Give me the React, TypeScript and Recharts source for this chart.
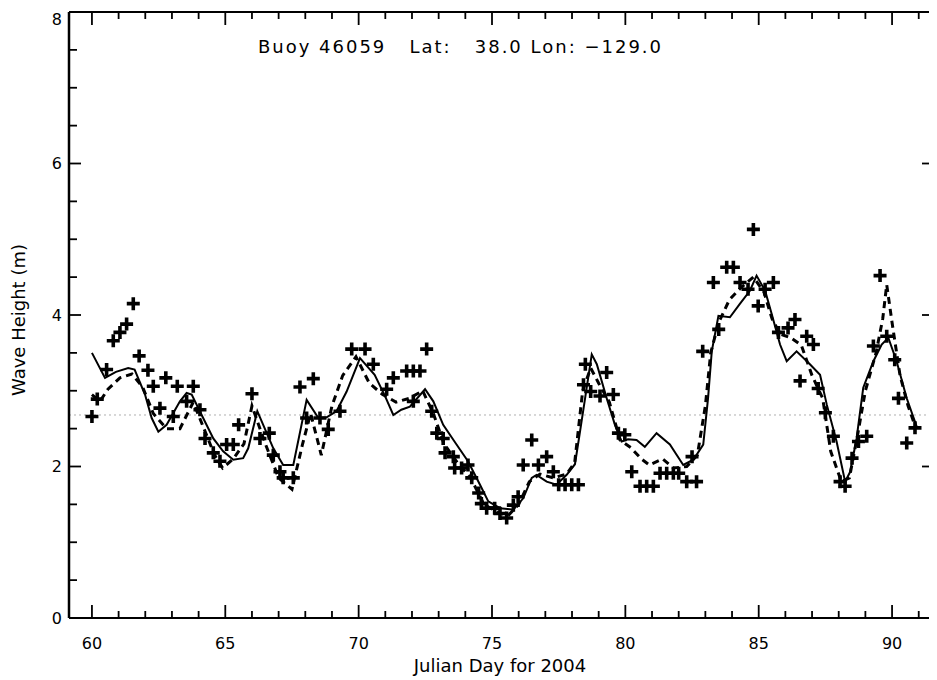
import React from 'react';
import {
  ComposedChart,
  Line,
  Scatter,
  XAxis,
  YAxis,
  ReferenceLine,
  Customized,
} from 'recharts';

// Observed buoy wave heights (+ markers)
const obsDays = [
  60.0, 60.2, 60.55, 60.8, 61.05, 61.3, 61.55, 61.77, 62.1, 62.3, 62.55, 62.77, 63.05, 63.2,
  63.55, 63.8, 64.05, 64.24, 64.55, 64.8, 65.05, 65.3, 65.5, 66.0, 66.3, 66.65, 66.8, 67.05,
  67.17, 67.55, 67.8, 68.05, 68.3, 68.55, 68.86, 69.3, 69.74, 70.24, 70.55, 71.05, 71.3,
  71.8, 72.05, 72.3, 72.05, 72.55, 72.74, 72.93, 73.17, 73.24, 73.55, 73.6, 73.86, 74.1,
  74.24, 74.5, 74.6, 74.8, 75.1, 75.3, 75.55, 75.8, 75.98, 76.17, 76.49, 76.74, 77.05, 77.3,
  77.5, 77.74, 77.99, 78.24, 78.43, 78.5, 78.7, 79.05, 79.3, 79.55, 79.74, 79.98, 80.24,
  80.55, 80.8, 81.05, 81.3, 81.55, 81.8, 82.0, 82.3, 82.5, 82.67, 82.9, 83.3, 83.5, 83.8,
  84.05, 84.3, 84.6, 84.8, 84.98, 85.24, 85.55, 85.74, 86.1, 86.36, 86.55, 86.8, 87.05,
  87.23, 87.5, 87.8, 88.05, 88.24, 88.5, 88.74, 89.05, 89.3, 89.55, 89.8, 90.1, 90.24,
  90.55, 90.86,
];
const obsHeights = [
  2.66, 2.89, 3.28, 3.66, 3.77, 3.88, 4.15, 3.46, 3.27, 3.06, 2.77, 3.17, 2.66, 3.06,
  2.86, 3.06, 2.75, 2.37, 2.18, 2.07, 2.29, 2.29, 2.55, 2.96, 2.37, 2.44, 2.15, 1.93,
  1.85, 1.85, 3.05, 2.64, 3.16, 2.64, 2.49, 2.73, 3.55, 3.55, 3.35, 3.02, 3.17,
  3.26, 3.26, 3.26, 2.86, 3.55, 2.73, 2.44, 2.37, 2.18, 2.13, 1.98, 1.98, 2.02,
  1.85, 1.65, 1.51, 1.45, 1.45, 1.38, 1.32, 1.49, 1.6, 2.02, 2.35, 2.02, 2.13, 1.93,
  1.76, 1.76, 1.76, 1.76, 3.08, 3.35, 2.99, 2.93, 3.24, 2.95, 2.44, 2.42, 1.93,
  1.74, 1.74, 1.74, 1.91, 1.91, 1.91, 1.91, 1.8, 2.13, 1.8, 3.52, 4.43, 3.81, 4.63,
  4.63, 4.43, 4.34, 5.13, 4.12, 4.34, 4.43, 3.77, 3.83, 3.94, 3.13, 3.72, 3.61,
  3.03, 2.71, 2.4, 1.8, 1.74, 2.11, 2.33, 2.4, 3.59, 4.52, 3.72, 3.41, 2.9,
  2.31, 2.51,
];

// Model 1 (solid line)
const solidDays = [
  60.0, 60.49, 60.9, 61.36, 61.6, 61.99, 62.24, 62.49, 62.8, 63.3, 63.55, 63.74, 64.17, 64.55,
  64.92, 65.3, 65.67, 65.86, 66.2, 66.8, 67.17, 67.55, 68.05, 68.49, 68.8, 69.17, 69.55,
  70.05, 70.6, 70.99, 71.3, 71.6, 71.92, 72.49, 72.8, 73.17, 73.67, 74.1, 74.55, 74.86,
  75.3, 75.8, 76.17, 76.49, 76.67, 77.05, 77.42, 77.8, 78.11, 78.3, 78.49, 78.74, 78.93,
  79.3, 79.61, 79.86, 80.1, 80.42, 80.73, 81.17, 81.67, 82.17, 82.55, 82.92, 83.1, 83.24,
  83.49, 83.92, 84.3, 84.67, 84.92, 85.24, 85.49, 85.8, 86.05, 86.42, 86.92, 87.3, 87.55,
  87.92, 88.24, 88.43, 88.67, 88.92, 89.3, 89.61, 89.86, 90.17, 90.55, 90.92,
];
const solidHeights = [
  3.5, 3.17, 3.25, 3.3, 3.28, 2.95, 2.64, 2.46, 2.55, 2.86, 2.97, 2.95, 2.64, 2.37,
  2.2, 2.09, 2.11, 2.24, 2.73, 2.24, 2.02, 2.02, 2.88, 2.64, 2.65, 2.73, 2.99,
  3.43, 3.21, 2.93, 2.68, 2.75, 2.79, 3.02, 2.86, 2.55, 2.29, 2.07, 1.76, 1.54,
  1.45, 1.43, 1.58, 1.85, 1.89, 1.8, 1.76, 1.89, 2.03, 2.46, 2.9, 3.48, 3.35,
  2.9, 2.55, 2.33, 2.36, 2.35, 2.26, 2.44, 2.29, 2.02, 2.09, 2.29, 2.9, 3.52,
  3.99, 3.97, 4.15, 4.32, 4.52, 4.32, 4.01, 3.61, 3.39, 3.52, 3.35, 3.21, 2.82,
  2.33, 1.8, 1.93, 2.37, 3.04, 3.39, 3.61, 3.7, 3.39, 2.9, 2.53,
];

// Model 2 (dashed line)
const dashedDays = [
  60.0, 60.3, 60.6, 61.05, 61.5, 61.9, 62.3, 62.8, 63.3, 63.8, 64.2, 64.6, 64.9, 65.3, 65.7,
  66.0, 66.5, 67.0, 67.5, 67.9, 68.2, 68.6, 69.0, 69.4, 69.9, 70.4, 70.9, 71.4, 71.9, 72.4,
  72.8, 73.2, 73.7, 74.2, 74.7, 75.2, 75.6, 76.0, 76.4, 76.8, 77.3, 77.8, 78.1, 78.4, 78.7,
  79.0, 79.4, 79.8, 80.2, 80.6, 80.9, 81.4, 81.8, 82.3, 82.7, 83.0, 83.2, 83.5, 83.9, 84.3,
  84.8, 85.2, 85.5, 85.8, 86.2, 86.6, 87.0, 87.4, 87.7, 88.1, 88.4, 88.7, 89.0, 89.4, 89.65,
  89.8, 90.0, 90.3, 90.6, 90.9,
];
const dashedHeights = [
  2.95, 2.86, 3.02, 3.17, 3.22, 3.05, 2.7, 2.5, 2.5, 2.85, 2.5, 2.15, 1.98, 2.1, 2.3,
  2.8, 2.3, 1.85, 1.7, 2.3, 2.7, 2.15, 2.8, 3.2, 3.45, 3.1, 2.95, 2.85, 2.9, 3.0,
  2.7, 2.3, 2.05, 1.85, 1.5, 1.4, 1.35, 1.5, 1.8, 1.9, 1.85, 1.9, 2.05, 3.0, 3.3,
  3.1, 2.85, 2.35, 2.25, 2.1, 2.02, 2.1, 1.98, 2.0, 2.15, 2.8, 3.5, 3.9, 4.2, 4.35,
  4.5, 4.3, 3.95, 3.75, 3.7, 3.6, 3.2, 2.9, 2.2, 1.8, 1.85, 2.4, 3.0, 3.5, 3.95,
  4.4, 3.9, 3.2, 2.8, 2.5,
];

const xTicks = Array.from({ length: 32 }, (_, i) => 60 + i);
const xLabelTicks = [60, 65, 70, 75, 80, 85, 90];
const yTicks = Array.from({ length: 17 }, (_, i) => i * 0.5);
const yLabelTicks = [0, 2, 4, 6, 8];
const titleText = 'Buoy 46059   Lat:   38.0 Lon: \u2212129.0';
const xTitle = 'Julian Day for 2004';
const yTitle = 'Wave Height (m)';

const obsData = obsDays.map((d, i) => ({ d, h: obsHeights[i] }));
const solidData = solidDays.map((d, i) => ({ d, h: solidHeights[i] }));
const dashedData = dashedDays.map((d, i) => ({ d, h: dashedHeights[i] }));

const FONT = '"DejaVu Sans", sans-serif';
const X_DOMAIN: [number, number] = [59.14, 91.61];

const BottomTick = (props: any) => {
  const { x, y, payload } = props;
  const v = payload.value;
  const major = xLabelTicks.includes(v);
  return (
    <g>
      <line x1={x} x2={x} y1={y} y2={y - (major ? 13 : 7)} stroke="#000" strokeWidth={1.8} />
      {major && (
        <text x={x} y={y + 31} textAnchor="middle" fontSize={16} fontFamily={FONT} fill="#000">
          {v}
        </text>
      )}
    </g>
  );
};

const TopTick = (props: any) => {
  const { x, y, payload } = props;
  const major = xLabelTicks.includes(payload.value);
  return <line x1={x} x2={x} y1={y} y2={y + (major ? 13 : 7)} stroke="#000" strokeWidth={1.8} />;
};

const LeftTick = (props: any) => {
  const { x, y, payload } = props;
  const v = payload.value;
  const major = yLabelTicks.includes(v);
  const labelY = v === 8 ? y + 7 : y;
  return (
    <g>
      <line x1={x} x2={x + (major ? 12 : 8)} y1={y} y2={y} stroke="#000" strokeWidth={1.8} />
      {major && (
        <text x={x - 7} y={labelY} dy="0.35em" textAnchor="end" fontSize={16} fontFamily={FONT} fill="#000">
          {v}
        </text>
      )}
    </g>
  );
};

const RightTick = (props: any) => {
  const { x, y, payload } = props;
  const major = yLabelTicks.includes(payload.value);
  return <line x1={x} x2={x - (major ? 13 : 6)} y1={y} y2={y} stroke="#000" strokeWidth={1.8} />;
};

const PlusShape = (props: any) => {
  const { cx, cy } = props;
  if (cx == null || cy == null) return null;
  const r = 6.5;
  return (
    <path
      d={`M${cx - r},${cy}H${cx + r}M${cx},${cy - r}V${cy + r}`}
      stroke="#000"
      strokeWidth={3.6}
      fill="none"
    />
  );
};

const Texts = () => (
  <g fontFamily={FONT} fill="#000">
    <text
      x={250}
      y={45}
      fontSize={18}
      textLength={403}
      lengthAdjust="spacing"
      style={{ whiteSpace: 'pre' }}
    >
      {titleText}
    </text>
    <text x={492} y={664} fontSize={18} textAnchor="middle">
      {xTitle}
    </text>
    <text x={17} y={312} fontSize={18} textAnchor="middle" transform="rotate(-90 17 312)">
      {yTitle}
    </text>
  </g>
);

export default function App() {
  return (
    <div style={{ width: 929, height: 672, background: '#fff' }}>
      <ComposedChart width={929} height={672} margin={{ top: 0, right: 0, bottom: 0, left: 0 }}>
        <XAxis
          dataKey="d"
          type="number"
          domain={X_DOMAIN}
          allowDataOverflow
          ticks={xTicks}
          interval={0}
          tickSize={0}
          tickMargin={0}
          tickLine={false}
          tick={BottomTick}
          height={62}
          axisLine={{ stroke: '#000', strokeWidth: 2 }}
        />
        <XAxis
          xAxisId="top"
          orientation="top"
          dataKey="d"
          type="number"
          domain={X_DOMAIN}
          allowDataOverflow
          ticks={xTicks}
          interval={0}
          tickSize={0}
          tickMargin={0}
          tickLine={false}
          tick={TopTick}
          height={4}
          axisLine={{ stroke: '#000', strokeWidth: 2 }}
        />
        <YAxis
          dataKey="h"
          type="number"
          domain={[0, 8]}
          allowDataOverflow
          ticks={yTicks}
          interval={0}
          tickSize={0}
          tickMargin={0}
          tickLine={false}
          tick={LeftTick}
          width={61}
          axisLine={{ stroke: '#000', strokeWidth: 2.5 }}
        />
        <YAxis
          yAxisId="right"
          orientation="right"
          type="number"
          domain={[0, 8]}
          allowDataOverflow
          ticks={yTicks}
          interval={0}
          tickSize={0}
          tickMargin={0}
          tickLine={false}
          tick={RightTick}
          width={2}
          axisLine={{ stroke: '#000', strokeWidth: 2 }}
        />
        <ReferenceLine y={2.68} stroke="#b0b0b0" strokeDasharray="2 3" strokeWidth={1} />
        <Line
          data={solidData}
          dataKey="h"
          type="linear"
          stroke="#000"
          strokeWidth={2}
          dot={false}
          activeDot={false}
          isAnimationActive={false}
        />
        <Line
          data={dashedData}
          dataKey="h"
          type="linear"
          stroke="#000"
          strokeWidth={3}
          strokeDasharray="7 5"
          dot={false}
          activeDot={false}
          isAnimationActive={false}
        />
        <Scatter data={obsData} dataKey="h" shape={PlusShape} isAnimationActive={false} />
        <Customized component={Texts} />
      </ComposedChart>
    </div>
  );
}
